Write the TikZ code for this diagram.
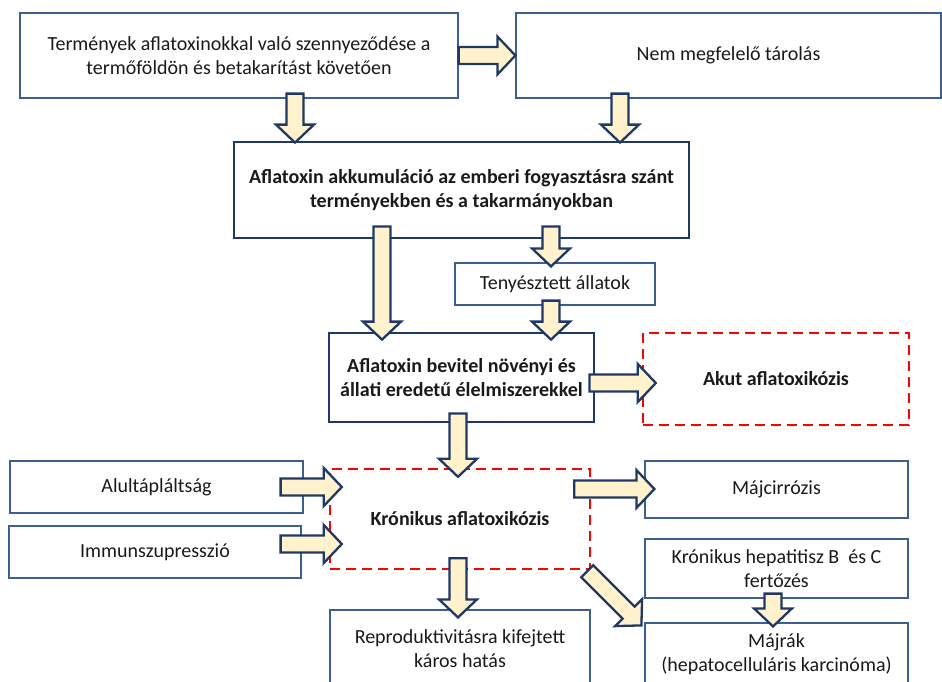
\documentclass[tikz,border=0pt]{standalone}
\usepackage{fontspec}
\setmainfont{Carlito}
\usetikzlibrary{calc}

\definecolor{thinblue}{HTML}{3B5F8F}
\definecolor{navy}{HTML}{1F3864}
\definecolor{cream}{HTML}{FFF2CC}
\definecolor{txt}{HTML}{1A1A1A}

\begin{document}
\begin{tikzpicture}[x=1pt,y=-1pt]
    \useasboundingbox (0,0) rectangle (942,681);
    \clip (0,0) rectangle (942,681);

    % plain boxes
    \begin{scope}[every node/.style={draw=thinblue,line width=1.2pt,fill=white,align=center,inner sep=0pt,text=txt,font=\fontsize{20}{24}\selectfont}]
        \node[minimum width=438,minimum height=85] (src) at (239,55.5) {Termények aflatoxinokkal való szennyeződése a\\termőföldön és betakarítást követően};
        \node[minimum width=425,minimum height=85] (storage) at (728.5,55.5) {Nem megfelelő tárolás};
        \node[minimum width=200,minimum height=42] (animals) at (555,284) {Tenyésztett állatok};
        \node[minimum width=293,minimum height=52] (malnut) at (156.5,487) {Alultápláltság};
        \node[minimum width=292,minimum height=52] (immuno) at (155,552) {Immunszupresszió};
        \node[minimum width=263,minimum height=57] (cirrhosis) at (776.5,489.5) {Májcirrózis};
        \node[minimum width=263,minimum height=59] (hepatitis) at (776.5,568.5) {Krónikus hepatitisz B\ \ és C\\fertőzés};
        \node[minimum width=263,minimum height=62] (cancer) at (776.5,654) {Májrák\\(hepatocelluláris karcinóma)};
        \node[minimum width=260,minimum height=77] (repro) at (460,648.5) {Reproduktivitásra kifejtett\\káros hatás};
    \end{scope}

    % main chain
    \begin{scope}[every node/.style={draw=navy,line width=2.8pt,fill=white,align=center,inner sep=0pt,text=txt,font=\fontsize{20}{24}\selectfont\bfseries}]
        \node[minimum width=455,minimum height=96] (accum) at (461.5,190) {Aflatoxin akkumuláció az emberi fogyasztásra szánt\\terményekben és a takarmányokban};
        \node[minimum width=265,minimum height=89] (intake) at (461.5,377.5) {Aflatoxin bevitel növényi és\\állati eredetű élelmiszerekkel};
    \end{scope}

    % diseases
    \begin{scope}[every node/.style={draw=red,line width=2.4pt,dash pattern=on 10pt off 6pt,fill=white,align=center,inner sep=0pt,text=txt,font=\fontsize{20}{24}\selectfont\bfseries}]
        \node[minimum width=266,minimum height=92] (acute) at (776,379) {Akut aflatoxikózis};
        \node[minimum width=260,minimum height=100] (chronic) at (460,519) {Krónikus aflatoxikózis};
    \end{scope}

    % arrow ends
    \coordinate (a2s) at ($(src.south)+(56,-5)$);
    \coordinate (a2t) at ($(a2s |- accum.north)+(0,2)$);
    \coordinate (a3s) at ($(storage.south)+(-108.5,-5)$);
    \coordinate (a3t) at ($(a3s |- accum.north)+(0,2)$);
    \coordinate (a4s) at ($(accum.south)+(-79.5,-13)$);
    \coordinate (a4t) at ($(a4s |- intake.north)+(0,8)$);
    \coordinate (a5s) at ($(accum.south)+(89.5,-13)$);
    \coordinate (a5t) at ($(a5s |- animals.north)+(0,4)$);
    \coordinate (a6s) at ($(animals.south)+(-4,-5)$);
    \coordinate (a6t) at ($(a6s |- intake.north)+(0,8)$);
    \coordinate (a7s) at ($(intake.east)+(-6,5.5)$);
    \coordinate (a7t) at ($(a7s -| acute.west)+(14,0)$);
    \coordinate (a8s) at ($(intake.south)+(-3.5,-10)$);
    \coordinate (a8t) at ($(a8s |- chronic.north)+(0,9)$);
    \coordinate (a9s) at ($(malnut.east)+(-23,0)$);
    \coordinate (a9t) at ($(a9s -| chronic.west)+(13,0)$);
    \coordinate (a10s) at ($(immuno.east)+(-21,-8)$);
    \coordinate (a10t) at ($(a10s -| chronic.west)+(13,0)$);
    \coordinate (a11s) at ($(chronic.east)+(-17,-30)$);
    \coordinate (a11t) at ($(a11s -| cirrhosis.west)+(10,0)$);
    \coordinate (a12s) at ($(chronic.south east)+(-4,1)$);
    \coordinate (a12t) at ($(cancer.north west)+(-3,3)$);
    \coordinate (a13s) at ($(chronic.south)+(-2,-12)$);
    \coordinate (a13t) at ($(a13s |- repro.north)+(0,8)$);
    \coordinate (a14s) at ($(hepatitis.south)+(-3.5,-5)$);
    \coordinate (a14t) at ($(a14s |- cancer.north)+(0,4)$);

    % block arrows
    \begin{scope}[fill=cream,draw=navy,line width=2.3pt,line join=miter]
        \foreach \s/\t in {src.east/storage.west,a2s/a2t,a3s/a3t,a4s/a4t,a5s/a5t,a6s/a6t,a7s/a7t,
                a8s/a8t,a9s/a9t,a10s/a10t,a11s/a11t,a12s/a12t,a13s/a13t,a14s/a14t}{
            \coordinate (hb) at ($(\t)!18pt!(\s)$);
            \filldraw ($(\s)!8.5pt!90:(\t)$) -- ($(hb)!8.5pt!90:(\t)$) -- ($(hb)!19pt!90:(\t)$) -- (\t)
                -- ($(hb)!19pt!-90:(\t)$) -- ($(hb)!8.5pt!-90:(\t)$) -- ($(\s)!8.5pt!-90:(\t)$) -- cycle;
        }
    \end{scope}
\end{tikzpicture}
\end{document}
